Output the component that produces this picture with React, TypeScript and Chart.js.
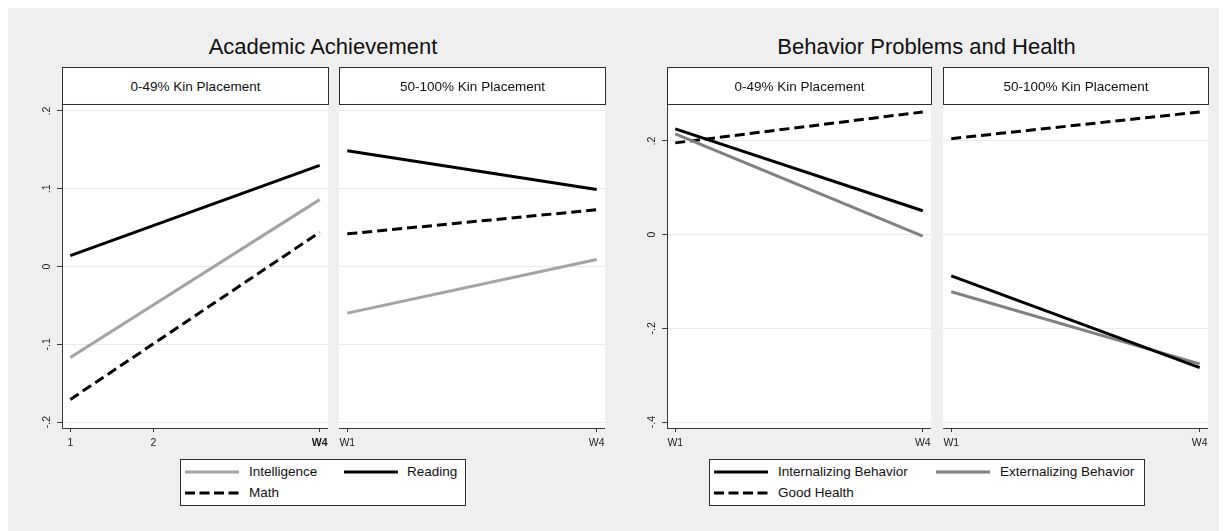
import React, { useEffect, useRef } from 'react';
import { Chart, registerables } from 'chart.js';

Chart.register(...registerables);

const FONT = "'Liberation Sans', Arial, Helvetica, sans-serif";

// ---- data ----
const waves = [1, 4];
const leftTitle = 'Academic Achievement';
const rightTitle = 'Behavior Problems and Health';
const panelLabels = ['0-49% Kin Placement', '50-100% Kin Placement'];

// Academic Achievement, 0-49% kin
const intelligenceLow = [-0.117, 0.086];
const readingLow = [0.014, 0.13];
const mathLow = [-0.171, 0.044];
// Academic Achievement, 50-100% kin
const intelligenceHigh = [-0.06, 0.009];
const readingHigh = [0.149, 0.099];
const mathHigh = [0.042, 0.073];

// Behavior Problems and Health, 0-49% kin
const internalLow = [0.226, 0.051];
const externalLow = [0.215, -0.003];
const healthLow = [0.196, 0.262];
// Behavior Problems and Health, 50-100% kin
const internalHigh = [-0.088, -0.284];
const externalHigh = [-0.122, -0.276];
const healthHigh = [0.205, 0.262];

const academicYTicks = [-0.2, -0.1, 0, 0.1, 0.2];
const academicYLabels = ['-.2', '-.1', '0', '.1', '.2'];
const behaviorYTicks = [-0.4, -0.2, 0, 0.2];
const behaviorYLabels = ['-.4', '-.2', '0', '.2'];

const firstPanelXTicks = [1, 2, 4];
const firstPanelXLabels = ['1', '2', 'W4'];
const waveXTicks = [1, 4];
const waveXLabels = ['W1', 'W4'];

const academicNames = ['Intelligence', 'Reading', 'Math'];
const behaviorNames = ['Internalizing Behavior', 'Externalizing Behavior', 'Good Health'];

// ---- styles ----
const LIGHT_GRAY = '#a3a3a3';
const MID_GRAY = '#808080';
const BLACK = '#000000';
const AXIS = '#3a3a3a';
const GRID = '#e3ecee';

type Series = { label: string; values: number[]; color: string; dash: boolean };

type PanelProps = {
  left: number;
  top: number;
  width: number;
  height: number;
  yAxisWidth: number;
  yMin: number;
  yMax: number;
  yTicks: number[];
  yLabels: string[];
  xTicks: number[];
  xLabels: string[];
  boldTick?: number;
  series: Series[];
};

function Panel(p: PanelProps) {
  const ref = useRef<HTMLCanvasElement>(null);
  useEffect(() => {
    const canvas = ref.current;
    if (!canvas) return;
    const bgPlugin = {
      id: 'plotBg',
      beforeDraw(chart: any) {
        const { ctx, chartArea: a } = chart;
        ctx.save();
        ctx.fillStyle = '#ffffff';
        ctx.fillRect(a.left, a.top, a.right - a.left, a.bottom - a.top);
        ctx.restore();
      },
    };
    const yLabelPlugin = {
      id: 'yLabels',
      afterDraw(chart: any) {
        if (p.yAxisWidth <= 0) return;
        const ys = chart.scales.y;
        const ctx = chart.ctx;
        ctx.save();
        ctx.fillStyle = '#1a1a1a';
        ctx.font = `10.5px ${FONT}`;
        ctx.textAlign = 'center';
        ctx.textBaseline = 'middle';
        p.yTicks.forEach((v, i) => {
          const y = ys.getPixelForValue(v);
          ctx.save();
          ctx.translate(chart.chartArea.left - 15, y);
          ctx.rotate(-Math.PI / 2);
          ctx.fillText(p.yLabels[i], 0, 0);
          ctx.restore();
        });
        ctx.restore();
      },
    };
    const chart = new Chart(canvas, {
      type: 'line',
      data: {
        datasets: p.series.map((s) => ({
          label: s.label,
          data: waves.map((w, i) => ({ x: w, y: s.values[i] })),
          borderColor: s.color,
          backgroundColor: s.color,
          borderWidth: 3,
          borderDash: s.dash ? [10, 5] : [],
          pointRadius: 0,
          fill: false,
          tension: 0,
        })),
      },
      options: {
        animation: false,
        responsive: false,
        maintainAspectRatio: false,
        layout: { padding: 0 },
        plugins: {
          legend: { display: false },
          tooltip: { enabled: false },
          title: { display: false },
        },
        scales: {
          x: {
            type: 'linear',
            min: 0.9,
            max: 4.1,
            afterBuildTicks: (s: any) => {
              s.ticks = p.xTicks.map((v) => ({ value: v }));
            },
            afterFit: (s: any) => {
              s.height = 24;
              s.paddingLeft = 0;
              s.paddingRight = 0;
            },
            ticks: {
              autoSkip: false,
              maxRotation: 0,
              minRotation: 0,
              padding: 4.5,
              color: '#1a1a1a',
              callback: (v: any) => {
                const idx = p.xTicks.indexOf(Number(v));
                return idx >= 0 ? p.xLabels[idx] : '';
              },
              font: (ctx: any) => ({
                family: FONT,
                size: 10.5,
                weight:
                  p.boldTick !== undefined && ctx.tick && ctx.tick.value === p.boldTick
                    ? 'bold'
                    : 'normal',
              }),
            },
            grid: {
              drawOnChartArea: false,
              drawTicks: true,
              tickLength: 4,
              tickColor: AXIS,
            },
            border: { color: AXIS, width: 1 },
          },
          y: {
            type: 'linear',
            min: p.yMin,
            max: p.yMax,
            afterBuildTicks: (s: any) => {
              s.ticks = p.yTicks.map((v) => ({ value: v }));
            },
            afterFit: (s: any) => {
              s.width = p.yAxisWidth;
              s.paddingTop = 0;
              s.paddingBottom = 0;
            },
            ticks: { display: false },
            grid: {
              color: GRID,
              lineWidth: 1,
              drawTicks: p.yAxisWidth > 0,
              tickLength: 5,
              tickColor: AXIS,
            },
            border: { display: p.yAxisWidth > 0, color: AXIS, width: 1 },
          },
        },
      } as any,
      plugins: [bgPlugin, yLabelPlugin],
    });
    return () => chart.destroy();
  }, []);
  return (
    <canvas
      ref={ref}
      width={p.width}
      height={p.height}
      style={{ position: 'absolute', left: p.left, top: p.top, width: p.width, height: p.height }}
    />
  );
}

function Header({ left, right, text }: { left: number; right: number; text: string }) {
  return (
    <div
      style={{
        position: 'absolute',
        left,
        top: 67,
        width: right - left + 1,
        height: 38,
        boxSizing: 'border-box',
        border: '1px solid #2e2e2e',
        background: '#ffffff',
        display: 'flex',
        alignItems: 'center',
        justifyContent: 'center',
        fontFamily: FONT,
        fontSize: 13.5,
        color: '#111',
      }}
    >
      {text}
    </div>
  );
}

function Title({ center, text }: { center: number; text: string }) {
  return (
    <div
      style={{
        position: 'absolute',
        left: center - 300,
        width: 600,
        top: 33,
        height: 28,
        lineHeight: '28px',
        textAlign: 'center',
        fontFamily: FONT,
        fontSize: 22,
        color: '#111',
      }}
    >
      {text}
    </div>
  );
}

function LegendBox({
  left,
  width,
  items,
  col2Sample,
  col2Text,
}: {
  left: number;
  width: number;
  items: Series[];
  col2Sample: number;
  col2Text: number;
}) {
  const pos = [
    { sx: 4, tx: 68, cy: 12 },
    { sx: col2Sample - 1, tx: col2Text - 1, cy: 12 },
    { sx: 4, tx: 68, cy: 33 },
  ];
  return (
    <div
      style={{
        position: 'absolute',
        left,
        top: 459,
        width,
        height: 47,
        boxSizing: 'border-box',
        border: '1px solid #2e2e2e',
        background: '#ffffff',
        fontFamily: FONT,
        fontSize: 13.5,
        color: '#111',
      }}
    >
      {items.map((it, i) => (
        <React.Fragment key={it.label}>
          <svg
            width={54}
            height={6}
            style={{ position: 'absolute', left: pos[i].sx, top: pos[i].cy - 3 }}
          >
            <line
              x1={0}
              y1={3}
              x2={54}
              y2={3}
              stroke={it.color}
              strokeWidth={3}
              strokeDasharray={it.dash ? '10 4.5' : undefined}
            />
          </svg>
          <span
            style={{
              position: 'absolute',
              left: pos[i].tx,
              top: pos[i].cy - 9,
              lineHeight: '18px',
              whiteSpace: 'nowrap',
            }}
          >
            {it.label}
          </span>
        </React.Fragment>
      ))}
    </div>
  );
}

export default function App() {
  const acadLow: Series[] = [
    { label: academicNames[0], values: intelligenceLow, color: LIGHT_GRAY, dash: false },
    { label: academicNames[1], values: readingLow, color: BLACK, dash: false },
    { label: academicNames[2], values: mathLow, color: BLACK, dash: true },
  ];
  const acadHigh: Series[] = [
    { label: academicNames[0], values: intelligenceHigh, color: LIGHT_GRAY, dash: false },
    { label: academicNames[1], values: readingHigh, color: BLACK, dash: false },
    { label: academicNames[2], values: mathHigh, color: BLACK, dash: true },
  ];
  const behLow: Series[] = [
    { label: behaviorNames[0], values: internalLow, color: BLACK, dash: false },
    { label: behaviorNames[1], values: externalLow, color: MID_GRAY, dash: false },
    { label: behaviorNames[2], values: healthLow, color: BLACK, dash: true },
  ];
  const behHigh: Series[] = [
    { label: behaviorNames[0], values: internalHigh, color: BLACK, dash: false },
    { label: behaviorNames[1], values: externalHigh, color: MID_GRAY, dash: false },
    { label: behaviorNames[2], values: healthHigh, color: BLACK, dash: true },
  ];

  const acadY = { yMin: -0.2077, yMax: 0.209, yTicks: academicYTicks, yLabels: academicYLabels };
  const behY = { yMin: -0.4128, yMax: 0.279, yTicks: behaviorYTicks, yLabels: behaviorYLabels };

  return (
    <div style={{ position: 'absolute', left: 0, top: 0, width: 1228, height: 531, overflow: 'hidden' }}>
      <div
        style={{ position: 'absolute', left: 8, top: 8, width: 1211, height: 523, background: '#efefef' }}
      />
      <Title center={323} text={leftTitle} />
      <Title center={926.5} text={rightTitle} />

      <Panel
        left={8}
        top={104}
        width={320}
        height={348}
        yAxisWidth={54}
        {...acadY}
        xTicks={firstPanelXTicks}
        xLabels={firstPanelXLabels}
        boldTick={4}
        series={acadLow}
      />
      <Panel
        left={339}
        top={104}
        width={266}
        height={348}
        yAxisWidth={0}
        {...acadY}
        xTicks={waveXTicks}
        xLabels={waveXLabels}
        series={acadHigh}
      />
      <Panel
        left={615}
        top={104}
        width={316}
        height={348}
        yAxisWidth={52}
        {...behY}
        xTicks={waveXTicks}
        xLabels={waveXLabels}
        series={behLow}
      />
      <Panel
        left={943}
        top={104}
        width={265}
        height={348}
        yAxisWidth={0}
        {...behY}
        xTicks={waveXTicks}
        xLabels={waveXLabels}
        series={behHigh}
      />

      <Header left={62} right={328} text={panelLabels[0]} />
      <Header left={339} right={605} text={panelLabels[1]} />
      <Header left={667} right={931} text={panelLabels[0]} />
      <Header left={943} right={1208} text={panelLabels[1]} />

      <LegendBox left={180} width={286} items={acadLow} col2Sample={164} col2Text={227} />
      <LegendBox left={709} width={436} items={behLow} col2Sample={227} col2Text={291} />
    </div>
  );
}
